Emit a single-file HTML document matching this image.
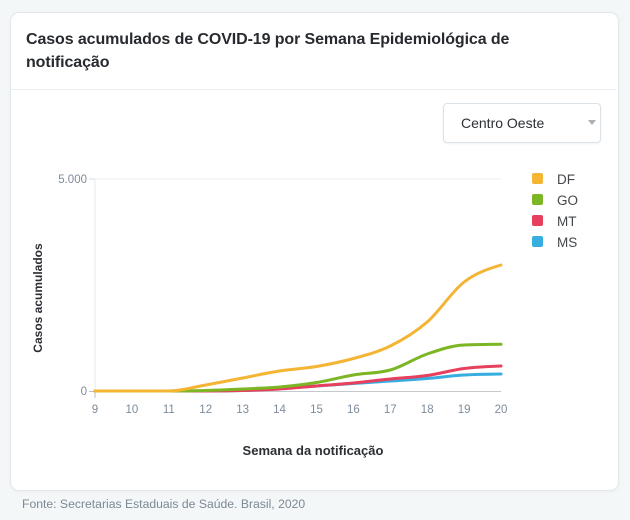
<!DOCTYPE html>
<html><head><meta charset="utf-8">
<style>
html,body{margin:0;padding:0;}
body{width:630px;height:520px;background:#f3f7f7;position:relative;overflow:hidden;font-family:"Liberation Sans",sans-serif;}
.card{position:absolute;left:10px;top:12px;width:607px;height:477px;background:#fff;border:1px solid #e2e8ea;border-radius:9px;box-shadow:0 1px 3px rgba(0,0,0,0.04);}
.title{position:absolute;left:26px;top:28px;width:520px;font-size:16px;font-weight:bold;color:#272a2e;line-height:23px;letter-spacing:-0.1px;}
.sep{position:absolute;left:11px;top:89px;width:605px;height:1px;background:#e8edef;}
.select{position:absolute;left:443px;top:103px;width:156px;height:38px;border:1px solid #dbe3e8;border-radius:4px;background:#fff;box-shadow:0 1px 2px rgba(0,0,0,0.05);}
.select span{position:absolute;left:17px;top:11px;font-size:14px;color:#2c2f33;}
.caret{position:absolute;left:144px;top:16px;width:0;height:0;border-left:4px solid transparent;border-right:4px solid transparent;border-top:5px solid #a9b0b6;}
.foot{position:absolute;left:22px;top:497px;font-size:12.2px;color:#7d8995;}
svg{position:absolute;left:0;top:0;}
</style></head>
<body>
<div class="card"></div>
<div class="title">Casos acumulados de COVID-19 por Semana Epidemiológica de notificação</div>
<div class="sep"></div>
<div class="select"><span>Centro Oeste</span><div class="caret"></div></div>
<div class="foot">Fonte: Secretarias Estaduais de Saúde. Brasil, 2020</div>
<svg id="chart" width="630" height="520" xmlns="http://www.w3.org/2000/svg">
  <line x1="95" y1="179" x2="501" y2="179" stroke="#e8eef2" stroke-width="1"/>
  <line x1="95" y1="179" x2="95" y2="391" stroke="#e4eaef" stroke-width="1"/>
  <line x1="89" y1="179" x2="95" y2="179" stroke="#d5dbe0" stroke-width="1"/>
  <line x1="89" y1="391.5" x2="95" y2="391.5" stroke="#b9bfc5" stroke-width="1"/>
  <line x1="95" y1="391.5" x2="501" y2="391.5" stroke="#c3c8cd" stroke-width="1"/>
  <line x1="95" y1="391" x2="95" y2="398" stroke="#b9bfc5" stroke-width="1"/>
  <g font-family="Liberation Sans, sans-serif" font-size="11.5" fill="#7d8b9b">
    <text x="87" y="183" text-anchor="end">5.000</text>
    <text x="87" y="395" text-anchor="end">0</text>
    <g text-anchor="middle">
      <text x="95" y="413">9</text>
      <text x="131.9" y="413">10</text>
      <text x="168.8" y="413">11</text>
      <text x="205.7" y="413">12</text>
      <text x="242.6" y="413">13</text>
      <text x="279.5" y="413">14</text>
      <text x="316.5" y="413">15</text>
      <text x="353.4" y="413">16</text>
      <text x="390.3" y="413">17</text>
      <text x="427.2" y="413">18</text>
      <text x="464.1" y="413">19</text>
      <text x="501" y="413">20</text>
    </g>
  </g>
  <text x="313" y="455" text-anchor="middle" font-family="Liberation Sans, sans-serif" font-size="13" font-weight="bold" fill="#2b2e33">Semana da notificação</text>
  <text transform="translate(42,298) rotate(-90)" text-anchor="middle" font-family="Liberation Sans, sans-serif" font-size="12" font-weight="bold" fill="#2b2e33">Casos acumulados</text>
  <g id="lines" fill="none" stroke-width="3" stroke-linecap="round" stroke-linejoin="round"></g>
  <g font-family="Liberation Sans, sans-serif" font-size="13.5" fill="#44474c">
    <rect x="532" y="173" width="11" height="11" rx="2" fill="#f4b434"/>
    <text x="557" y="184">DF</text>
    <rect x="532" y="194" width="11" height="11" rx="2" fill="#7db624"/>
    <text x="557" y="205">GO</text>
    <rect x="532" y="215" width="11" height="11" rx="2" fill="#e6405c"/>
    <text x="557" y="226">MT</text>
    <rect x="532" y="236" width="11" height="11" rx="2" fill="#38ade0"/>
    <text x="557" y="247">MS</text>
  </g>
</svg>
<script>
(function(){
  var xs=[];for(var i=0;i<12;i++)xs.push(95+i*(406/11));
  var series=[
    {c:"#38ade0",y:[391,391,391,391,390.5,388.5,386,383.5,381,378.5,375,374]},
    {c:"#e6405c",y:[391,391,391,391,390.5,389,386,383,379,375.5,368.5,366]},
    {c:"#7db624",y:[391,391,391,390.5,389,387,382.5,375,370,354,345,344.3]},
    {c:"#f4b434",y:[391,391,391,385,378,371,366.5,358.5,346,322,282,265]}
  ];
  function sign(v){return v<0?-1:1;}
  function slope3(x0,x1,x2,y0,y1,y2){var h0=x1-x0,h1=x2-x1,s0=(y1-y0)/h0,s1=(y2-y1)/h1,p=(s0*h1+s1*h0)/(h0+h1);return (sign(s0)+sign(s1))*Math.min(Math.abs(s0),Math.abs(s1),0.5*Math.abs(p))||0;}
  function slope2(x0,x1,y0,y1,t){var h=x1-x0;return h?(3*(y1-y0)/h-t)/2:t;}
  function path(x,y){
    var n=x.length,t=new Array(n);
    for(var i=1;i<n-1;i++)t[i]=slope3(x[i-1],x[i],x[i+1],y[i-1],y[i],y[i+1]);
    t[0]=slope2(x[0],x[1],y[0],y[1],t[1]);
    t[n-1]=slope2(x[n-2],x[n-1],y[n-2],y[n-1],t[n-2]);
    var d="M"+x[0]+","+y[0];
    for(var i=0;i<n-1;i++){var dx=(x[i+1]-x[i])/3;
      d+="C"+(x[i]+dx)+","+(y[i]+dx*t[i])+","+(x[i+1]-dx)+","+(y[i+1]-dx*t[i+1])+","+x[i+1]+","+y[i+1];}
    return d;
  }
  var g=document.getElementById("lines");
  series.forEach(function(s){
    var p=document.createElementNS("http://www.w3.org/2000/svg","path");
    p.setAttribute("d",path(xs,s.y));p.setAttribute("stroke",s.c);g.appendChild(p);
  });
})();
</script>
</body></html>
